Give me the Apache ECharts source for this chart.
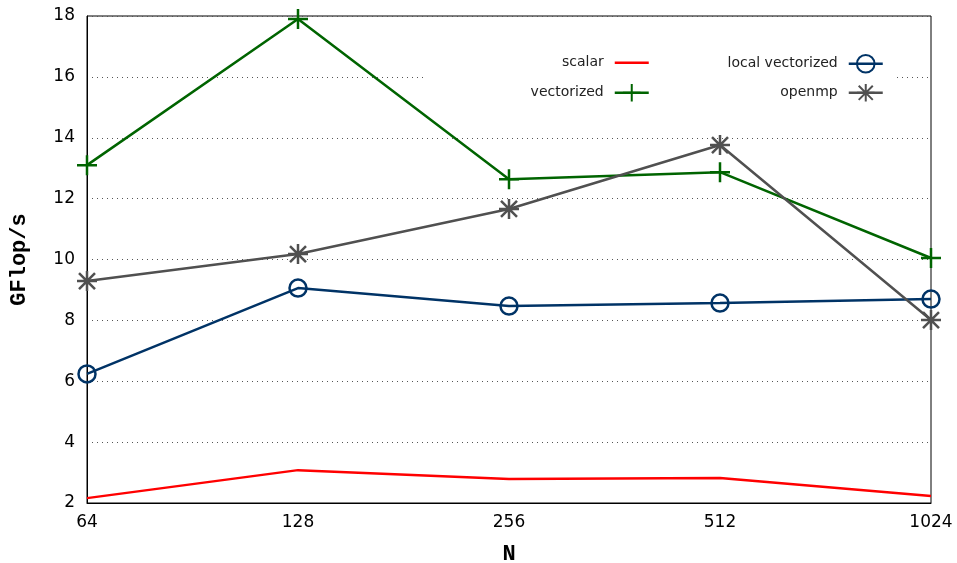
<!DOCTYPE html>
<html>
<head>
<meta charset="utf-8">
<script src="https://cdn.jsdelivr.net/npm/echarts@6/dist/echarts.min.js"></script>
<style>
  html, body { margin: 0; padding: 0; background: #fff; }
  #chart { width: 957px; height: 563px; }
</style>
</head>
<body>
<div id="chart"></div>
<script>
    // 数据：横轴 N，纵轴 GFlop/s
    var sizes = ['64', '128', '256', '512', '1024'];
    var scalar = [2.16, 3.08, 2.79, 2.82, 2.23];
    var vectorized = [13.1, 17.9, 12.64, 12.87, 10.05];
    var localVectorized = [6.24, 9.06, 8.47, 8.57, 8.70];
    var openmp = [9.29, 10.18, 11.66, 13.76, 8.01];

    var plusPath = 'path://M0,-1L0,1M-1,0L1,0';
    var starPath = 'path://M0,-1L0,1M-1,0L1,0M-0.8,-0.8L0.8,0.8M-0.8,0.8L0.8,-0.8';

    var chart = echarts.init(document.getElementById('chart'));

    function legendAt(item, right, top) {
        return {
            data: [item],
            orient: 'vertical',
            align: 'right',
            right: right,
            top: top,
            padding: 0,
            itemWidth: 34,
            itemHeight: 22,
            z: 5,
            lineStyle: { width: 2.5 },
            textStyle: { fontFamily: 'DejaVu Sans', fontSize: 14, color: '#222', padding: [0, 6, 0, 0] }
        };
    }

    chart.setOption({
        animation: false,
        backgroundColor: '#fff',
        grid: {
            left: 87, right: 26, top: 16, bottom: 60,
            outerBoundsMode: 'none',
            containLabel: false,
            show: true, borderColor: '#000', borderWidth: 1
        },
        legend: [
            legendAt({ name: 'scalar', itemStyle: { opacity: 0 } }, 307, 54),
            legendAt('vectorized', 307, 83),
            legendAt('local vectorized', 73, 54),
            legendAt('openmp', 73, 83)
        ],
        graphic: [{
            type: 'rect',
            shape: { x: 425, y: 32, width: 468, height: 76 },
            style: { fill: '#fff' },
            z: 1
        }],
        xAxis: {
            type: 'category',
            data: sizes,
            boundaryGap: false,
            name: 'N',
            nameLocation: 'middle',
            nameGap: 40,
            nameTextStyle: { fontFamily: 'Courier New, Liberation Mono, monospace', fontWeight: 'bold', fontSize: 22, color: '#000' },
            axisLine: { lineStyle: { color: '#000', width: 1 } },
            axisTick: { show: false },
            axisLabel: { fontFamily: 'DejaVu Sans', fontSize: 17, color: '#000', margin: 11 },
            splitLine: { show: false }
        },
        yAxis: {
            type: 'value',
            min: 2, max: 18, interval: 2,
            name: 'GFlop/s',
            nameLocation: 'middle',
            nameGap: 57,
            nameTextStyle: { fontFamily: 'Courier New, Liberation Mono, monospace', fontWeight: 'bold', fontSize: 22, color: '#000' },
            axisLine: { show: true, lineStyle: { color: '#000', width: 1 } },
            axisTick: { show: false },
            axisLabel: { fontFamily: 'DejaVu Sans', fontSize: 17, color: '#000', margin: 12 },
            splitLine: { show: true, lineStyle: { type: [1, 4], color: '#555', width: 1 } }
        },
        series: [
            {
                name: 'scalar', type: 'line', data: scalar,
                showSymbol: false, symbol: 'none',
                lineStyle: { color: '#ff0000', width: 2.5 },
                itemStyle: { color: '#ff0000' }, z: 3
            },
            {
                name: 'vectorized', type: 'line', data: vectorized,
                symbol: plusPath, symbolSize: 20,
                lineStyle: { color: '#006400', width: 2.5 },
                itemStyle: { color: '#006400', borderColor: '#006400', borderWidth: 2.5 }, z: 3
            },
            {
                name: 'local vectorized', type: 'line', data: localVectorized,
                symbol: 'circle', symbolSize: 17,
                lineStyle: { color: '#003366', width: 2.5 },
                itemStyle: { color: 'rgba(0,0,0,0)', borderColor: '#003366', borderWidth: 2.5 }, z: 3
            },
            {
                name: 'openmp', type: 'line', data: openmp,
                symbol: starPath, symbolSize: 20,
                lineStyle: { color: '#505050', width: 2.5 },
                itemStyle: { color: '#505050', borderColor: '#505050', borderWidth: 2.5 }, z: 3
            }
        ]
    });
</script>
</body>
</html>
